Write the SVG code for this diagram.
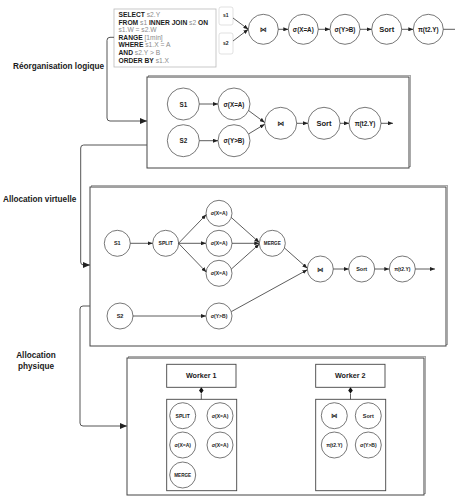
<svg xmlns="http://www.w3.org/2000/svg" width="455" height="496" viewBox="0 0 455 496">
<defs>
<style>
.t{font-family:"Liberation Sans","DejaVu Sans",sans-serif;font-weight:bold;fill:#1a1a1a;text-anchor:middle;dominant-baseline:central}
.h{font-family:"Liberation Sans","DejaVu Sans",sans-serif;font-weight:bold;fill:#1a1a1a;font-size:8.2px}
.sql{font-family:"Liberation Sans","DejaVu Sans",sans-serif;font-size:6.7px;fill:#1a1a1a}
.k{font-weight:bold}
.g{fill:#8a8a8a}
.c{fill:#fff;stroke:#555;stroke-width:0.8}
.box{fill:#fff;stroke:#444;stroke-width:1}
.sh{fill:none;stroke:#aaa;stroke-width:1}
.e{fill:none;stroke:#333;stroke-width:0.8}
.ea{fill:none;stroke:#333;stroke-width:0.8;marker-end:url(#a)}
.conn{fill:none;stroke:#555;stroke-width:1;marker-end:url(#b)}
.wk{fill:#fff;stroke:#444;stroke-width:0.9}
</style>
<marker id="a" markerUnits="userSpaceOnUse" markerWidth="5" markerHeight="4" refX="5" refY="2" orient="auto"><path d="M0,0 L5,2 L0,4 z" fill="#222"/></marker>
<marker id="b" markerUnits="userSpaceOnUse" markerWidth="7" markerHeight="6" refX="7" refY="3" orient="auto"><path d="M0,0 L7,3 L0,6 z" fill="#222"/></marker>
</defs>
<rect width="455" height="496" fill="#fff"/>

<!-- section labels -->
<text class="h" x="13" y="68.5" font-size="8.3">Réorganisation logique</text>
<text class="h" x="3" y="202">Allocation virtuelle</text>
<text class="h" x="36" y="358" text-anchor="middle">Allocation</text>
<text class="h" x="36" y="368.5" text-anchor="middle">physique</text>

<!-- query box -->
<g id="query">
<rect x="114" y="9" width="102" height="58" fill="#fff" stroke="#bbb" stroke-width="0.8"/>
<text class="sql" x="118.5" y="17.4"><tspan class="k">SELECT</tspan><tspan class="g"> s2.Y</tspan></text>
<text class="sql" x="118.5" y="25.1"><tspan class="k">FROM</tspan><tspan class="g"> s1 </tspan><tspan class="k">INNER JOIN</tspan><tspan class="g"> s2 </tspan><tspan class="k">ON</tspan></text>
<text class="sql g" x="118.5" y="32.4">s1.W = s2.W</text>
<text class="sql" x="118.5" y="39.7"><tspan class="k">RANGE</tspan><tspan class="g"> [1min]</tspan></text>
<text class="sql" x="118.5" y="47.4"><tspan class="k">WHERE</tspan><tspan class="g"> s1.X = A</tspan></text>
<text class="sql" x="118.5" y="55.1"><tspan class="k">AND</tspan><tspan class="g"> s2.Y &gt; B</tspan></text>
<text class="sql" x="118.5" y="63.1"><tspan class="k">ORDER BY</tspan><tspan class="g"> s1.X</tspan></text>
</g>

<!-- top plan -->
<g id="top-s1"><rect x="219" y="7" width="14" height="18" rx="2" fill="#fff" stroke="#ccc" stroke-width="0.6"/><text class="t" x="225.7" y="15" font-size="5">s1</text></g>
<g id="top-s2"><rect x="219" y="33" width="14" height="21" rx="2" fill="#fff" stroke="#ccc" stroke-width="0.6"/><text class="t" x="225.7" y="43.3" font-size="5">s2</text></g>
<g id="top-join"><circle class="c" cx="263.3" cy="29.3" r="15"/><text class="t" x="263.3" y="29.3" font-size="7">⋈</text></g>
<g id="top-selA"><circle class="c" cx="303.3" cy="29.3" r="15"/><text class="t" x="303.3" y="29.3" font-size="6.3">σ(X=A)</text></g>
<g id="top-selB"><circle class="c" cx="345" cy="29.3" r="15"/><text class="t" x="345" y="29.3" font-size="6.3">σ(Y&gt;B)</text></g>
<g id="top-sort"><circle class="c" cx="386.7" cy="29.3" r="15"/><text class="t" x="386.7" y="29.3" font-size="7.5">Sort</text></g>
<g id="top-proj"><circle class="c" cx="428.3" cy="29.3" r="15"/><text class="t" x="428.3" y="29.3" font-size="6.3">π(t2.Y)</text></g>

<!-- box 2 -->
<g id="logical">
<rect class="sh" x="148.5" y="75.5" width="262" height="91"/>
<rect class="box" x="147" y="77" width="262" height="91"/>
</g>
<g id="l-s1"><circle class="c" cx="183.3" cy="104" r="16"/><text class="t" x="183.3" y="104" font-size="6.3">S1</text></g>
<g id="l-s2"><circle class="c" cx="183.3" cy="140.7" r="16"/><text class="t" x="183.3" y="140.7" font-size="6.3">S2</text></g>
<g id="l-selA"><circle class="c" cx="234" cy="104" r="16"/><text class="t" x="234" y="104" font-size="6.3">σ(X=A)</text></g>
<g id="l-selB"><circle class="c" cx="234" cy="140.7" r="16"/><text class="t" x="234" y="140.7" font-size="6.3">σ(Y&gt;B)</text></g>
<g id="l-join"><circle class="c" cx="280.7" cy="123.3" r="16"/><text class="t" x="280.7" y="123.3" font-size="7">⋈</text></g>
<g id="l-sort"><circle class="c" cx="324" cy="123.3" r="16"/><text class="t" x="324" y="123.3" font-size="7.5">Sort</text></g>
<g id="l-proj"><circle class="c" cx="365" cy="123.3" r="16"/><text class="t" x="365" y="123.3" font-size="6.3">π(t2.Y)</text></g>

<!-- box 3 -->
<g id="virtual">
<rect class="sh" x="91.5" y="185.5" width="356" height="159"/>
<rect class="box" x="90" y="187" width="356" height="159"/>
</g>
<g id="v-s1"><circle class="c" cx="117.3" cy="243.3" r="13"/><text class="t" x="117.3" y="243.3" font-size="5.5">S1</text></g>
<g id="v-split"><circle class="c" cx="165.7" cy="243.3" r="13"/><text class="t" x="165.7" y="243.3" font-size="5">SPLIT</text></g>
<g id="v-selA1"><circle class="c" cx="219" cy="213.3" r="13"/><text class="t" x="219" y="213.3" font-size="5">σ(X=A)</text></g>
<g id="v-selA2"><circle class="c" cx="219" cy="243.3" r="13"/><text class="t" x="219" y="243.3" font-size="5">σ(X=A)</text></g>
<g id="v-selA3"><circle class="c" cx="219" cy="273.3" r="13"/><text class="t" x="219" y="273.3" font-size="5">σ(X=A)</text></g>
<g id="v-merge"><circle class="c" cx="272.3" cy="243.3" r="13"/><text class="t" x="272.3" y="243.3" font-size="4.6">MERGE</text></g>
<g id="v-join"><circle class="c" cx="320.3" cy="269" r="13"/><text class="t" x="320.3" y="269" font-size="6.5">⋈</text></g>
<g id="v-sort"><circle class="c" cx="361.7" cy="269" r="13"/><text class="t" x="361.7" y="269" font-size="5.5">Sort</text></g>
<g id="v-proj"><circle class="c" cx="402.3" cy="269" r="13"/><text class="t" x="402.3" y="269" font-size="5">π(t2.Y)</text></g>
<g id="v-s2"><circle class="c" cx="120" cy="316" r="13"/><text class="t" x="120" y="316" font-size="5.5">S2</text></g>
<g id="v-selB"><circle class="c" cx="219" cy="316" r="13"/><text class="t" x="219" y="316" font-size="5">σ(Y&gt;B)</text></g>

<!-- box 4 -->
<g id="physical">
<rect class="sh" x="128.5" y="356.5" width="297" height="137"/>
<rect class="box" x="127" y="358" width="297" height="137"/>
</g>
<g id="worker1">
<rect class="wk" x="166.7" y="364.3" width="69.3" height="23"/>
<text class="t" x="201.3" y="375.8" font-size="7.2">Worker 1</text>
<rect class="wk" x="166.7" y="399.3" width="70" height="91.4"/>
</g>
<g id="worker2">
<rect class="wk" x="315.7" y="364.3" width="69.3" height="23"/>
<text class="t" x="350.3" y="375.8" font-size="7.2">Worker 2</text>
<rect class="wk" x="315.7" y="399.3" width="70" height="91.4"/>
</g>
<g id="w1-split"><circle class="c" cx="182.7" cy="415.7" r="13"/><text class="t" x="182.7" y="415.7" font-size="5">SPLIT</text></g>
<g id="w1-selA1"><circle class="c" cx="220" cy="415.7" r="13"/><text class="t" x="220" y="415.7" font-size="5">σ(X=A)</text></g>
<g id="w1-selA2"><circle class="c" cx="182.7" cy="445" r="13"/><text class="t" x="182.7" y="445" font-size="5">σ(X=A)</text></g>
<g id="w1-selA3"><circle class="c" cx="220" cy="445" r="13"/><text class="t" x="220" y="445" font-size="5">σ(X=A)</text></g>
<g id="w1-merge"><circle class="c" cx="182.7" cy="475" r="13"/><text class="t" x="182.7" y="475" font-size="4.6">MERGE</text></g>
<g id="w2-join"><circle class="c" cx="334.3" cy="415.7" r="13"/><text class="t" x="334.3" y="415.7" font-size="6.5">⋈</text></g>
<g id="w2-sort"><circle class="c" cx="368.3" cy="415.7" r="13"/><text class="t" x="368.3" y="415.7" font-size="5.5">Sort</text></g>
<g id="w2-proj"><circle class="c" cx="334.3" cy="445" r="13"/><text class="t" x="334.3" y="445" font-size="5">π(t2.Y)</text></g>
<g id="w2-selB"><circle class="c" cx="368.3" cy="445" r="13"/><text class="t" x="368.3" y="445" font-size="5">σ(Y&gt;B)</text></g>

<!-- connectors -->
<g id="connectors">
<!-- stage connectors -->
<path class="conn" d="M114,37.3 H110 Q107,37.3 107,40.3 V118 Q107,121 110,121 H147"/>
<path class="conn" d="M147,145 H83.7 Q80.7,145 80.7,148 V262 Q80.7,265 83.7,265 H90"/>
<path class="conn" d="M90,306 H83 Q80,306 80,309 V423 Q80,426 83,426 H127"/>
<!-- top plan -->
<path class="ea" d="M233,18 L248.3,29.3"/>
<path class="ea" d="M233,41 L248.3,29.3"/>
<path class="ea" d="M278.3,29.3 H288.3"/>
<path class="ea" d="M318.3,29.3 H330"/>
<path class="ea" d="M360,29.3 H371.7"/>
<path class="ea" d="M401.7,29.3 H413.3"/>
<path class="e" d="M443.3,29.3 H455"/>
<!-- logical -->
<path class="ea" d="M199.3,104 H218"/>
<path class="ea" d="M199.3,140.7 H218"/>
<path class="ea" d="M248.5,110.5 L264.7,122.5"/>
<path class="ea" d="M248.5,134 L264.7,124.2"/>
<path class="ea" d="M296.7,123.3 H308"/>
<path class="ea" d="M340,123.3 H349"/>
<path class="ea" d="M381,123.3 H393"/>
<!-- virtual -->
<path class="ea" d="M130.3,243.3 H152.7"/>
<path class="ea" d="M178.5,243.3 L206.3,214.5"/>
<path class="ea" d="M178.7,243.3 H206"/>
<path class="ea" d="M178.5,243.3 L206.3,272.1"/>
<path class="ea" d="M231.3,217.5 L259.3,242.5"/>
<path class="ea" d="M232,243.3 H259.3"/>
<path class="ea" d="M231.3,269.1 L259.3,244.1"/>
<path class="ea" d="M284.5,248 L307.3,268.2"/>
<path class="ea" d="M133,316 H206"/>
<path class="ea" d="M231.5,311.5 L307.3,269.8"/>
<path class="ea" d="M333.3,269 H348.7"/>
<path class="ea" d="M374.7,269 H389.3"/>
<path class="ea" d="M415.3,269 H435"/>
<!-- worker composition -->
<path d="M201.3,387.3 L203.6,390.4 L201.3,393.5 L199,390.4 z" fill="#111"/>
<path class="e" d="M201.3,393.5 V399.3"/>
<path d="M350.5,387.3 L352.8,390.4 L350.5,393.5 L348.2,390.4 z" fill="#111"/>
<path class="e" d="M350.5,393.5 V399.3"/>
</g>
</svg>
